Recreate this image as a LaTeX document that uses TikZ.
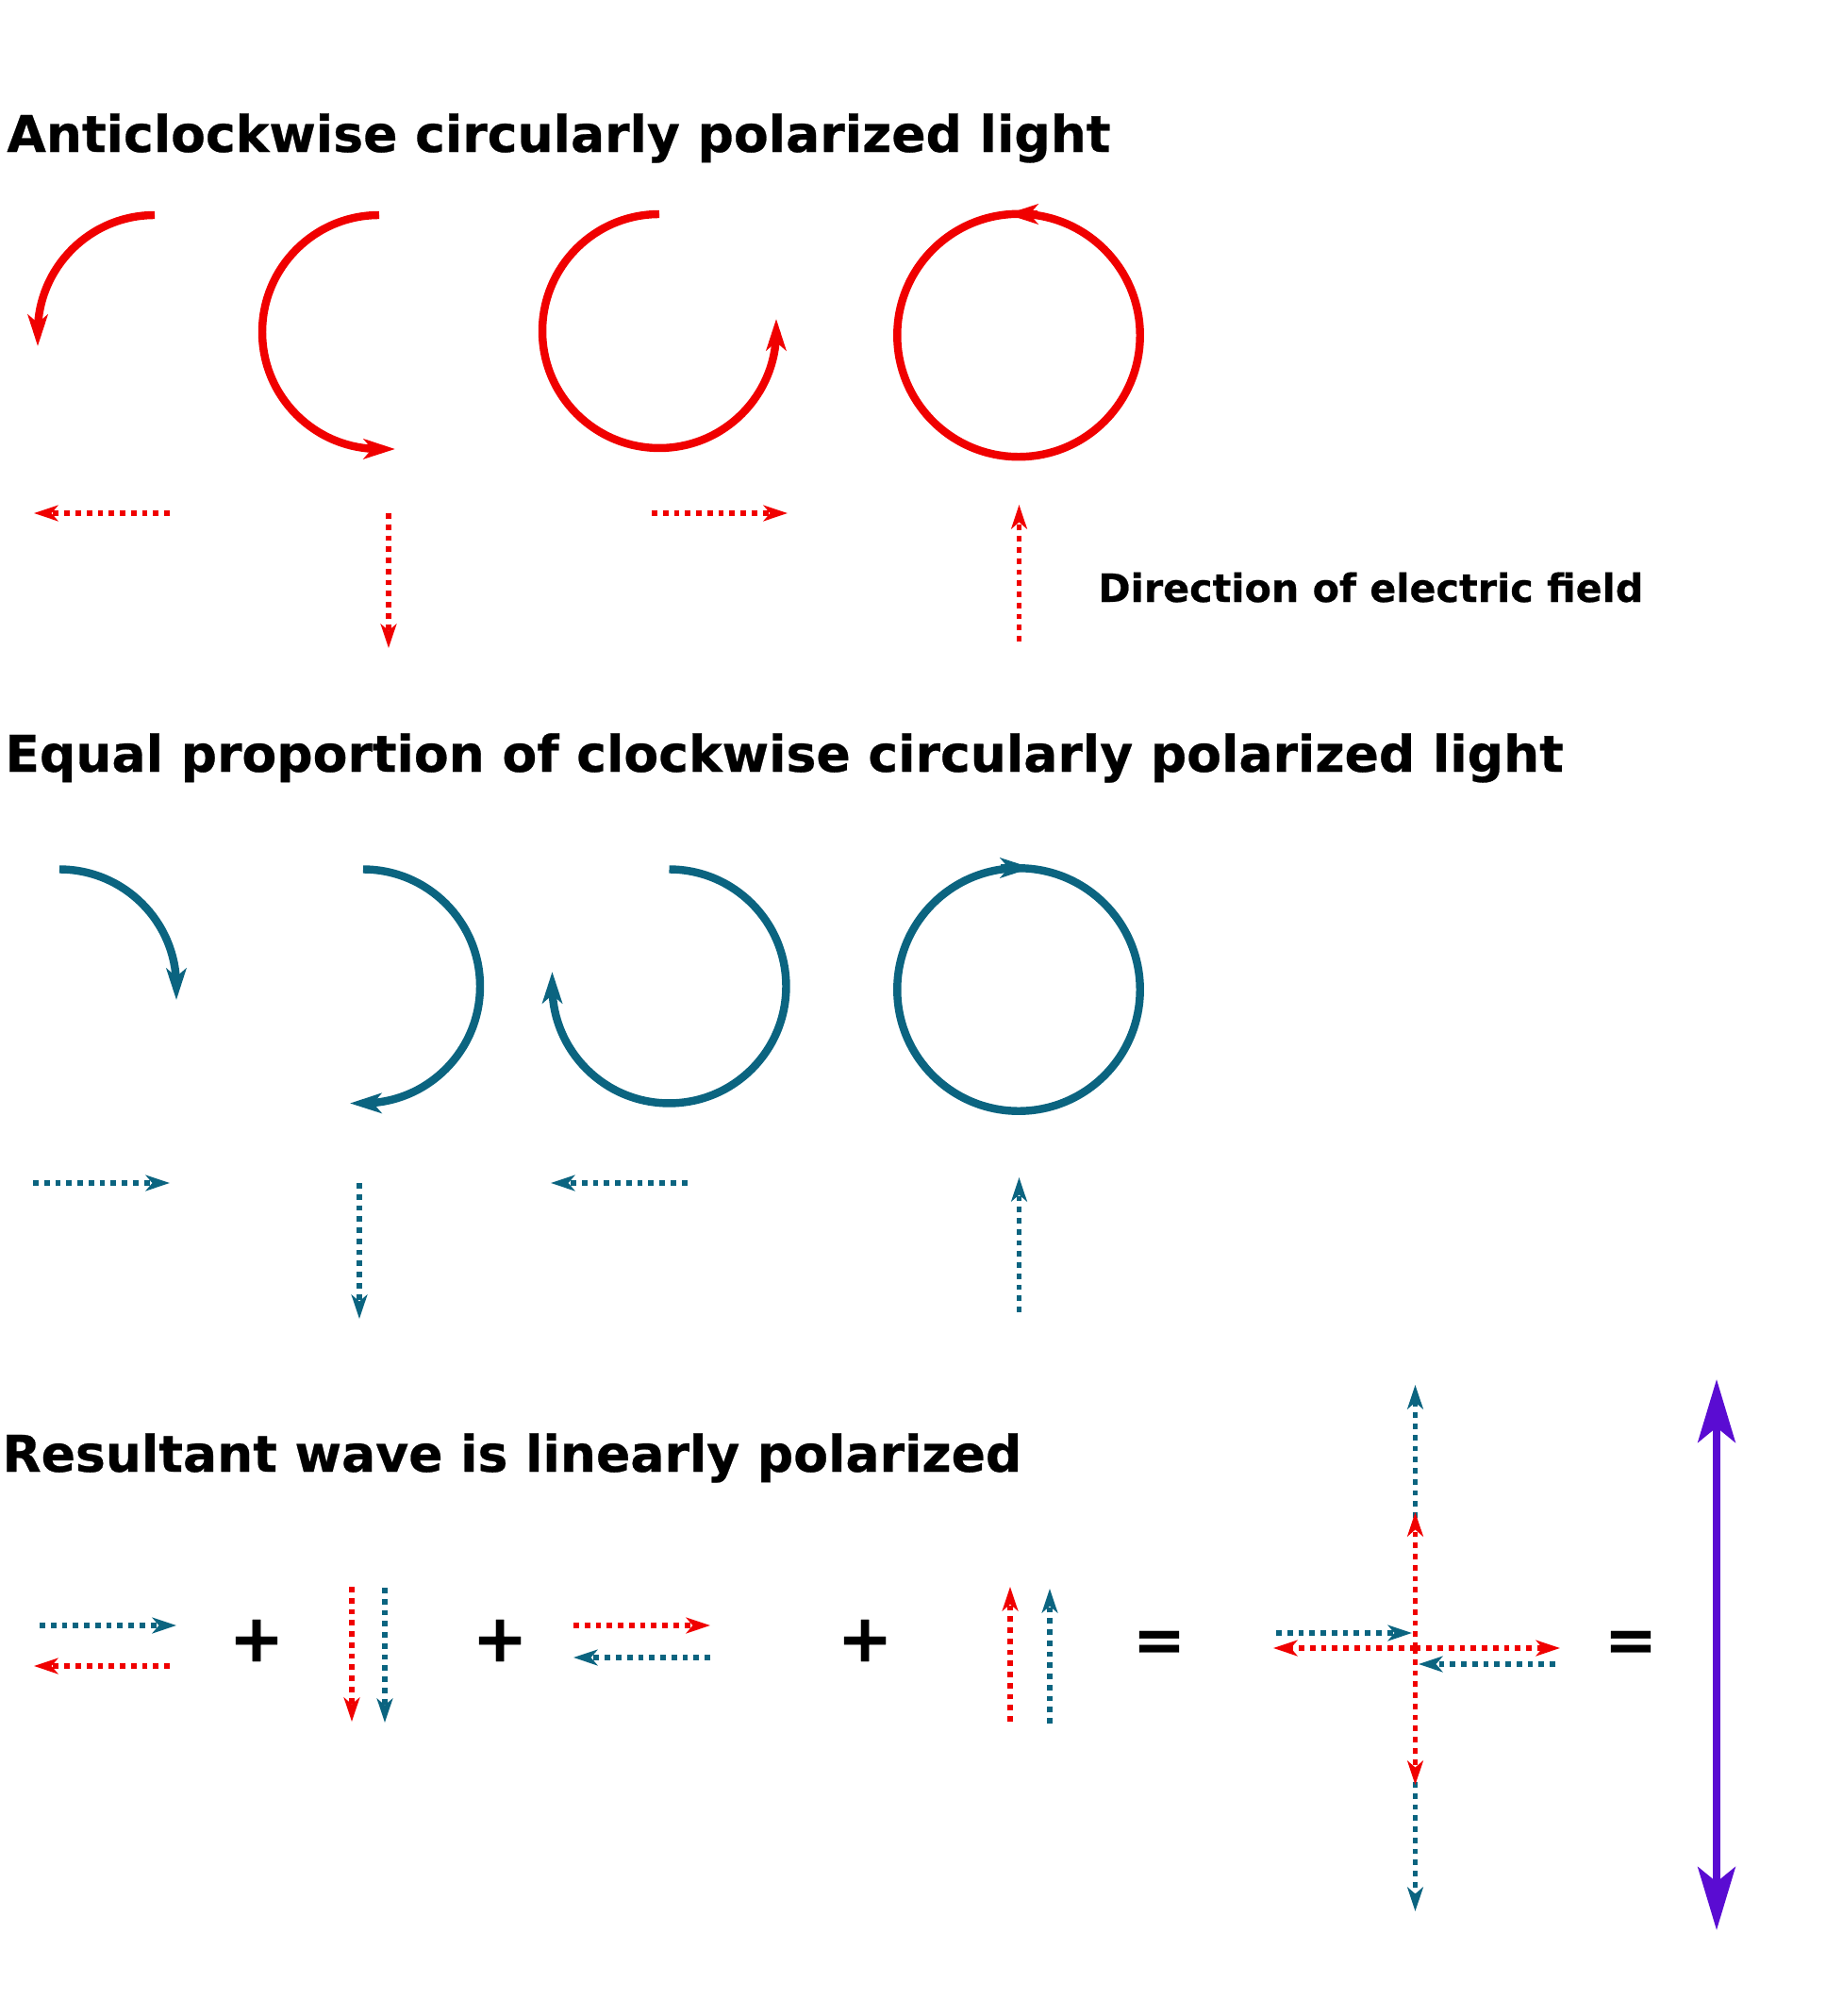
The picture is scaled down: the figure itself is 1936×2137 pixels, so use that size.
\documentclass[tikz,border=0pt]{standalone}
\usepackage{fontspec}
\setmainfont[BoldFeatures={FakeBold=0.5}]{DejaVu Sans}
\usetikzlibrary{arrows.meta}
\definecolor{cwblue}{HTML}{0B6480}
\definecolor{acwred}{HTML}{F00000}
\definecolor{respurple}{HTML}{5A0CD2}
\tikzset{
    heading/.style={anchor=base west, inner sep=0pt, font=\bfseries\fontsize{30.5}{34}\selectfont},
    symb/.style={inner sep=0pt, font=\bfseries\fontsize{40}{46}\selectfont},
    eqsymb/.style={inner sep=0pt, font=\bfseries\fontsize{38}{44}\selectfont},
    rot/.style={line width=4.8pt, -{Stealth[length=19pt, width=12pt, inset=5pt]}},
    ring/.style={line width=4.8pt},
    field/.style={line width=3.3pt, dash pattern=on 3.3pt off 3.4pt, -{Stealth[length=14.5pt, width=9.5pt, inset=4pt]}},
}
\begin{document}
\begin{tikzpicture}[x=0.02cm, y=-0.02cm]
    \useasboundingbox (0,0) rectangle (1936,2137);

    % Headings
    \node[heading] (acwtitle) at (7,161) {Anticlockwise circularly polarized light};
    \node[heading] (cwtitle) at (5,818) {Equal proportion of clockwise circularly polarized light};
    \node[heading] (restitle) at (2,1560) {Resultant wave is linearly polarized};
    \node[heading, font=\bfseries\fontsize{23.5}{27}\selectfont] (fieldlabel) at (1164,638) {Direction of electric field};

    % Anticlockwise
    \draw[rot, acwred] (164,228) arc (90:180:2.48cm) -- (40,367);
    \draw[rot, acwred] (402,228) arc (90:270:2.48cm) -- (419,476);
    \draw[rot, acwred] (699,227) arc (90:360:2.48cm) -- (823,338);
    \draw[ring, acwred] (1080,355.5) circle (2.575cm);
    \draw[rot, acwred] (1100,227) -- (1067,227);

    \draw[field, acwred] (180,544) -- (36,544);
    \draw[field, acwred] (412,544) -- (412,687);
    \draw[field, acwred] (691,544) -- (835,544);
    \draw[field, acwred] (1080.5,680) -- (1080.5,535);

    % Clockwise
    \draw[rot, cwblue] (63,921.5) arc (90:0:2.48cm) -- (187,1060);
    \draw[rot, cwblue] (385,921.5) arc (90:-90:2.48cm) -- (371,1169.5);
    \draw[rot, cwblue] (709.5,921.5) arc (90:-180:2.48cm) -- (585.5,1030);
    \draw[ring, cwblue] (1080,1049) circle (2.575cm);
    \draw[rot, cwblue] (1061,920) -- (1094,920);

    \draw[field, cwblue] (35,1254) -- (180,1254);
    \draw[field, cwblue] (381,1254) -- (381,1398);
    \draw[field, cwblue] (728.5,1254) -- (584,1254);
    \draw[field, cwblue] (1080.5,1391) -- (1080.5,1248);

    % Sum of the pairs
    \draw[field, cwblue] (42,1723) -- (187,1723);
    \draw[field, acwred] (180,1766) -- (36,1766);
    \node[symb] (plusa) at (272,1739) {+};
    \draw[field, acwred] (373,1682) -- (373,1825);
    \draw[field, cwblue] (408,1683) -- (408,1826);
    \node[symb] (plusb) at (530,1739) {+};
    \draw[field, acwred] (608,1723) -- (753,1723);
    \draw[field, cwblue] (753,1757) -- (608,1757);
    \node[symb] (plusc) at (917,1739) {+};
    \draw[field, acwred] (1071,1825) -- (1071,1682);
    \draw[field, cwblue] (1113,1827) -- (1113,1684);
    \node[eqsymb] (eqa) at (1229,1745) {=};

    % Cross
    \draw[field, cwblue] (1500.5,1609) -- (1500.5,1468);
    \draw[field, cwblue] (1500.5,1889) -- (1500.5,2026);
    \draw[field, acwred] (1500.5,1747) -- (1500.5,1603);
    \draw[field, acwred] (1500.5,1747) -- (1500.5,1892);
    \draw[field, acwred] (1500.5,1747) -- (1350,1747);
    \draw[field, acwred] (1500.5,1747) -- (1654,1747);
    \draw[field, cwblue] (1353,1731) -- (1497,1731);
    \draw[field, cwblue] (1649,1764) -- (1504,1764);
    \node[eqsymb] (eqb) at (1729,1745) {=};

    % Resultant
    \draw[line width=4.8pt, respurple, {Stealth[length=38pt, width=22.5pt, inset=9pt]}-{Stealth[length=38pt, width=22.5pt, inset=9pt]}] (1820,1462) -- (1820,2046);
\end{tikzpicture}
\end{document}
